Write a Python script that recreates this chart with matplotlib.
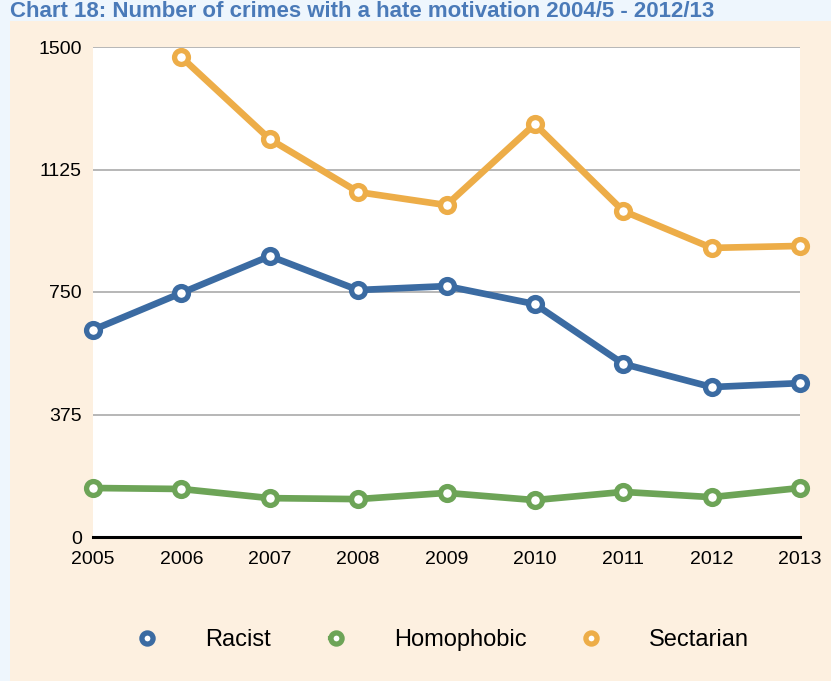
import matplotlib
matplotlib.use("Agg")
import matplotlib.pyplot as plt
from matplotlib.patches import Rectangle
import numpy as np

years = [2005, 2006, 2007, 2008, 2009, 2010, 2011, 2012, 2013]
racist = [634, 747, 860, 756, 768, 713, 530, 459, 471]
homophobic = [150, 147, 119, 116, 135, 113, 138, 122, 150]
sectarian = [np.nan, 1469, 1218, 1056, 1016, 1264, 998, 885, 891]
yticks = [0, 375, 750, 1125, 1500]
title = "Chart 18: Number of crimes with a hate motivation 2004/5 - 2012/13"

plt.rcParams['font.family'] = ['Liberation Sans', 'DejaVu Sans']

W, H = 831, 681
fig = plt.figure(figsize=(W/100, H/100), dpi=100)
fig.patch.set_facecolor('#EEF6FD')
fig.add_artist(Rectangle((10/W, 0), 1 - 10/W, 1 - 21/H, transform=fig.transFigure,
                         facecolor='#FDF0E0', edgecolor='none', zorder=-5))
fig.text(10/W, 1 - 17/H, title, fontsize=16, fontweight='bold', color='#4A7AB8',
         va='baseline', ha='left')

ax = fig.add_axes([93/W, 144/H, 707/W, 490/H])
ax.set_zorder(1)
ax.set_facecolor('white')

series = [("Racist", racist, '#3B6BA2'), ("Homophobic", homophobic, '#6DA457'),
          ("Sectarian", sectarian, '#EDAD48')]
handles = []
for name, vals, col in series:
    ln, = ax.plot(years, vals, color=col, lw=4.8, marker='o', markersize=10,
                  markerfacecolor='white', markeredgecolor=col, markeredgewidth=3.8,
                  clip_on=False, zorder=3, label=name)
    handles.append(ln)

ax.set_xlim(2005, 2013)
ax.set_ylim(0, 1500)
ax.set_yticks(yticks)
ax.set_xticks(years)
ax.set_xticklabels([str(y) for y in years])
for t in yticks[1:]:
    ax.axhline(t, color='#AAAAAA', lw=1.2, zorder=1)
for s in ['top', 'right', 'left']:
    ax.spines[s].set_visible(False)
ax.spines['bottom'].set_linewidth(2.2)
ax.spines['bottom'].set_color('black')
ax.tick_params(axis='both', length=0, labelsize=14)
ax.tick_params(axis='y', pad=8)
ax.tick_params(axis='x', pad=10)

leg = fig.legend(handles=handles, loc='center', bbox_to_anchor=(0.536, 41/H), ncol=3,
                 frameon=False, fontsize=17, handlelength=0.5, handletextpad=2.2,
                 columnspacing=2.5)
for h in leg.legend_handles:
    h.set_linewidth(3)
    h.set_markersize(8)

fig.savefig("out.png", dpi=100, facecolor=fig.get_facecolor())
